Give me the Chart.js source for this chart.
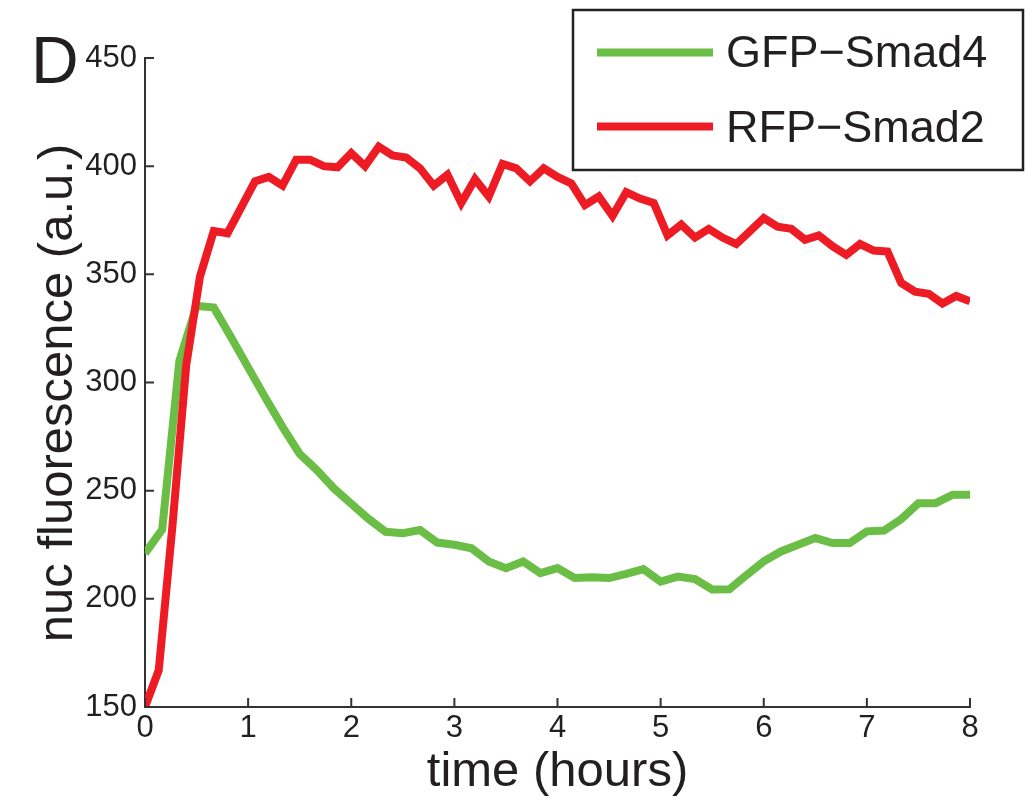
<!DOCTYPE html>
<html>
<head>
<meta charset="utf-8">
<script src="https://cdn.jsdelivr.net/npm/chart.js@4.4.1/dist/chart.umd.min.js"></script>
<style>
  html, body { margin: 0; padding: 0; background: #fff; }
  #wrap { position: relative; width: 1025px; height: 805px; }
</style>
</head>
<body>
<div id="wrap"><canvas id="c" width="1025" height="805"></canvas></div>
<script>
// ---- data ----
const panelLabel = "D";
const xTitle = "time (hours)";
const yTitle = "nuc fluorescence (a.u.)";
const xTicks = [0, 1, 2, 3, 4, 5, 6, 7, 8];
const yTicks = [150, 200, 250, 300, 350, 400, 450];
const seriesNames = ["GFP\u2212Smad4", "RFP\u2212Smad2"];

// GFP-Smad4: sampled every 10 minutes, 0 .. 8 h
const gfpStepMinutes = 10;
const gfpSmad4 = [221, 232, 310, 335.5, 334.7, 321, 307, 293, 279.5, 267,
  259.5, 251, 244, 237, 231, 230.3, 231.8, 226, 225, 223.4,
  217.3, 214.2, 217.3, 211.9, 214.2, 209.6, 210, 209.6, 211.5, 213.7,
  208, 210.3, 209.1, 204.3, 204.4, 211, 217.3, 221.9, 225, 228.1,
  225.8, 225.8, 231.2, 231.6, 236.9, 244.2, 244.2, 248.1, 248.1];

// RFP-Smad2: sampled every 8 minutes, 0 .. 8 h
const rfpStepMinutes = 8;
const rfpSmad2 = [150, 167, 234, 308, 349, 370, 369, 381, 393, 395,
  391, 403, 403, 400, 399.5, 406, 400, 409, 405, 404,
  399, 391, 396, 383, 394, 386, 401, 399, 393, 399,
  395, 392, 382, 386, 377, 388, 385, 383, 368, 373,
  367, 371, 367, 364, 370, 376, 372, 371, 366, 368,
  363, 359, 364, 361, 360.5, 346, 342, 341, 336.5, 340,
  337.5];

const toPoints = (vals, stepMin) => vals.map((v, i) => ({ x: i * stepMin / 60, y: v }));

const GREEN = "#6abd45";
const RED = "#ed1c24";
const INK = "#231f20";
const AXIS = "#333333";
const FONT = "'Liberation Sans', Arial, Helvetica, sans-serif";

const decor = {
  id: "decor",
  afterDraw(chart) {
    const ctx = chart.ctx;
    const xs = chart.scales.x, ys = chart.scales.y;
    const a = chart.chartArea;
    ctx.save();
    // inward tick marks
    ctx.strokeStyle = AXIS;
    ctx.lineWidth = 2;
    ctx.beginPath();
    xTicks.forEach(t => {
      const px = xs.getPixelForValue(t);
      ctx.moveTo(px, a.bottom);
      ctx.lineTo(px, a.bottom - 9);
    });
    yTicks.forEach(t => {
      const py = ys.getPixelForValue(t);
      ctx.moveTo(a.left, py);
      ctx.lineTo(a.left + 9, py);
    });
    ctx.stroke();

    // panel label
    ctx.fillStyle = INK;
    ctx.font = "66px " + FONT;
    ctx.textAlign = "left";
    ctx.textBaseline = "alphabetic";
    ctx.fillText(panelLabel, 31, 83);

    // axis titles
    ctx.font = "49px " + FONT;
    ctx.textAlign = "center";
    ctx.textBaseline = "middle";
    ctx.fillText(xTitle, (a.left + a.right) / 2, 772);
    ctx.save();
    ctx.translate(58, 393);
    ctx.rotate(-Math.PI / 2);
    ctx.fillText(yTitle, 0, 0);
    ctx.restore();

    // legend box
    ctx.fillStyle = "#fff";
    ctx.fillRect(573, 10, 450, 160);
    ctx.strokeStyle = "#222";
    ctx.lineWidth = 2.5;
    ctx.strokeRect(573, 10, 450, 160);
    const rows = [[seriesNames[0], GREEN, 52.5, 67], [seriesNames[1], RED, 126.5, 142]];
    rows.forEach(([name, col, ly, by]) => {
      ctx.strokeStyle = col;
      ctx.lineWidth = 8;
      ctx.beginPath();
      ctx.moveTo(597, ly);
      ctx.lineTo(713, ly);
      ctx.stroke();
      ctx.fillStyle = INK;
      ctx.font = "45px " + FONT;
      ctx.textAlign = "left";
      ctx.textBaseline = "alphabetic";
      ctx.fillText(name, 726, by);
    });
    ctx.restore();
  }
};

new Chart(document.getElementById("c"), {
  type: "line",
  data: {
    datasets: [
      { label: seriesNames[1], data: toPoints(rfpSmad2, rfpStepMinutes), borderColor: RED,
        borderWidth: 8, pointRadius: 0, tension: 0, fill: false, order: 0 },
      { label: seriesNames[0], data: toPoints(gfpSmad4, gfpStepMinutes), borderColor: GREEN,
        borderWidth: 8, pointRadius: 0, tension: 0, fill: false, order: 1 }
    ]
  },
  options: {
    responsive: false,
    animation: false,
    devicePixelRatio: 1,
    layout: { padding: { top: 58, right: 55, bottom: 0, left: 0 } },
    plugins: { legend: { display: false }, tooltip: { enabled: false } },
    scales: {
      x: {
        type: "linear", min: 0, max: 8,
        afterBuildTicks: s => { s.ticks = xTicks.map(v => ({ value: v })); },
        afterFit: s => { s.height = 98; },
        grid: { display: false },
        border: { display: true, color: AXIS, width: 2 },
        ticks: { font: { size: 31, family: FONT }, color: INK, padding: -5, maxRotation: 0 }
      },
      y: {
        type: "linear", min: 150, max: 450,
        afterBuildTicks: s => { s.ticks = yTicks.map(v => ({ value: v })); },
        afterFit: s => { s.width = 145; },
        grid: { display: false },
        border: { display: true, color: AXIS, width: 2 },
        ticks: { font: { size: 31, family: FONT }, color: INK, padding: 0 }
      }
    }
  },
  plugins: [decor]
});
</script>
</body>
</html>
